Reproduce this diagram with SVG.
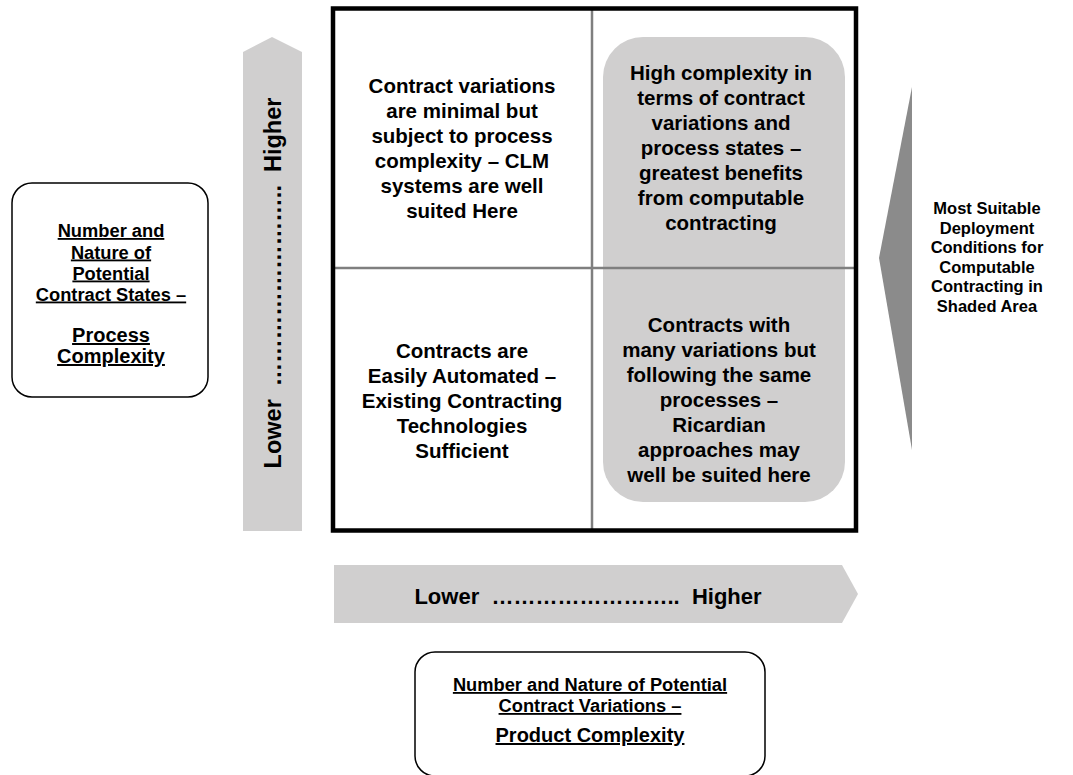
<svg xmlns="http://www.w3.org/2000/svg" width="1073" height="775" viewBox="0 0 1073 775">
<style>
text{font-family:"Liberation Sans",Arial,sans-serif;font-weight:bold;fill:#000;text-anchor:middle}
.q{font-size:20.5px}
.u{text-decoration:underline}
.lbl{font-size:18.3px}
.big{font-size:20px}
.rt{font-size:16.5px}
.ax{font-size:22px;white-space:pre}
.axv{font-size:23.5px;white-space:pre}
.arrow{fill:#d0cfcf}
</style>
<rect width="1073" height="775" fill="#fff"/>
<g id="axis-vertical">
<polygon class="arrow" points="243,531 243,52 272,37 302,52 302,531"/>
<text class="axv" transform="translate(281,283) rotate(-90)">Lower  ……………………..  Higher</text>
</g>
<g id="axis-horizontal">
<polygon class="arrow" points="334,565 842,565 858,594 842,623 334,623"/>
<text class="ax" x="588" y="604">Lower  ……………………..  Higher</text>
</g>
<g id="shaded-area">
<rect x="603" y="37" width="242" height="465" rx="40" fill="#d0cfcf"/>
</g>
<g id="grid">
<line x1="592" y1="9" x2="592" y2="530" stroke="#7f7f7f" stroke-width="2.5"/>
<line x1="333" y1="268" x2="856" y2="268" stroke="#7f7f7f" stroke-width="2.5"/>
<rect x="333" y="8.5" width="523" height="522" fill="none" stroke="#000" stroke-width="4.5"/>
</g>
<g id="q-top-left">
<text class="q" x="462" y="92.7">Contract variations</text>
<text class="q" x="462" y="118">are minimal but</text>
<text class="q" x="462" y="143">subject to process</text>
<text class="q" x="462" y="168">complexity – CLM</text>
<text class="q" x="462" y="193">systems are well</text>
<text class="q" x="462" y="218">suited Here</text>
</g>
<g id="q-top-right">
<text class="q" x="721" y="80">High complexity in</text>
<text class="q" x="721" y="105">terms of contract</text>
<text class="q" x="721" y="130">variations and</text>
<text class="q" x="721" y="155">process states –</text>
<text class="q" x="721" y="180">greatest benefits</text>
<text class="q" x="721" y="204.5">from computable</text>
<text class="q" x="721" y="229.5">contracting</text>
</g>
<g id="q-bottom-left">
<text class="q" x="462" y="358">Contracts are</text>
<text class="q" x="462" y="383">Easily Automated –</text>
<text class="q" x="462" y="408">Existing Contracting</text>
<text class="q" x="462" y="433">Technologies</text>
<text class="q" x="462" y="458">Sufficient</text>
</g>
<g id="q-bottom-right">
<text class="q" x="719" y="332">Contracts with</text>
<text class="q" x="719" y="357">many variations but</text>
<text class="q" x="719" y="382">following the same</text>
<text class="q" x="719" y="407">processes –</text>
<text class="q" x="719" y="432">Ricardian</text>
<text class="q" x="719" y="457">approaches may</text>
<text class="q" x="719" y="482">well be suited here</text>
</g>
<g id="process-complexity">
<rect x="12" y="183" width="196" height="214" rx="20" fill="#fff" stroke="#000" stroke-width="1.5"/>
<text class="lbl u" x="111" y="237">Number and</text>
<text class="lbl u" x="111" y="258.5">Nature of</text>
<text class="lbl u" x="111" y="279.5">Potential</text>
<text class="lbl u" x="111" y="300.5">Contract States –</text>
<text class="big u" x="111" y="342">Process</text>
<text class="big u" x="111" y="363">Complexity</text>
</g>
<g id="product-complexity">
<rect x="415" y="652" width="350" height="124" rx="20" fill="#fff" stroke="#000" stroke-width="1.5"/>
<text class="lbl u" x="590" y="691">Number and Nature of Potential</text>
<text class="lbl u" x="590" y="712">Contract Variations –</text>
<text class="big u" x="590" y="742">Product Complexity</text>
</g>
<g id="deployment-note">
<polygon points="912,87 879,258 912,450" fill="#8b8b8b"/>
<text class="rt" x="987" y="214">Most Suitable</text>
<text class="rt" x="987" y="233.5">Deployment</text>
<text class="rt" x="987" y="253">Conditions for</text>
<text class="rt" x="987" y="272.5">Computable</text>
<text class="rt" x="987" y="292">Contracting in</text>
<text class="rt" x="987" y="311.5">Shaded Area</text>
</g>
</svg>
